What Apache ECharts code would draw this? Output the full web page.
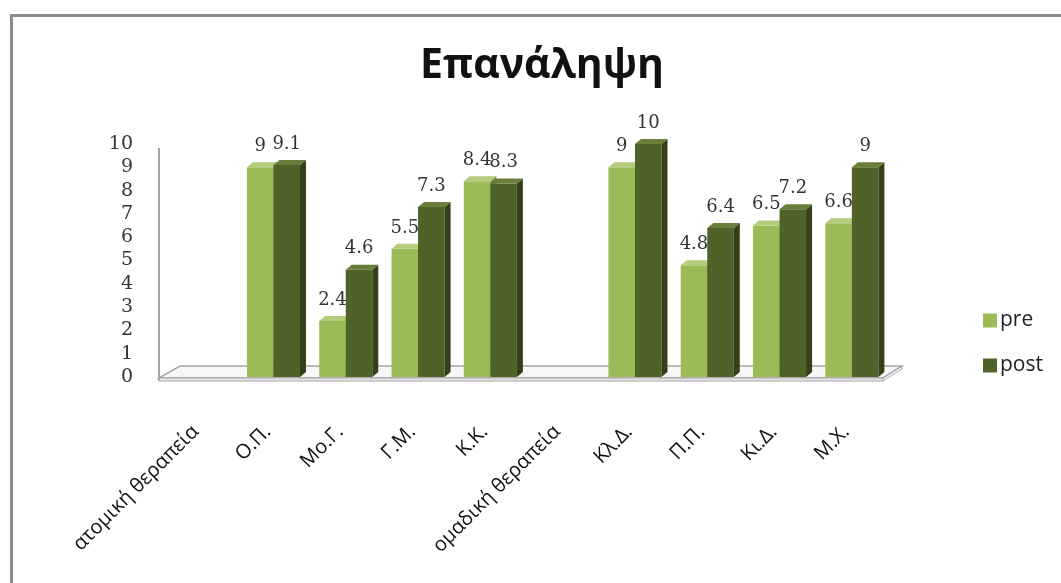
<!DOCTYPE html>
<html>
<head>
<meta charset="utf-8">
<script src="https://cdn.jsdelivr.net/npm/echarts@6/dist/echarts.min.js"></script>
<style>
  html, body { margin: 0; padding: 0; background: #ffffff; }
  #chart { width: 1061px; height: 583px; }
</style>
</head>
<body>
<div id="chart"></div>
<script>
// Categories along the x axis
const categories = ['ατομική θεραπεία', 'Ο.Π.', 'Μο.Γ.', 'Γ.Μ.', 'Κ.Κ.',
                    'ομαδική θεραπεία', 'Κλ.Δ.', 'Π.Π.', 'Κι.Δ.', 'Μ.Χ.'];
// Scores before and after (group headings have no values)
const preValues  = [null, 9,   2.4, 5.5, 8.4, null, 9,  4.8, 6.5, 6.6];
const postValues = [null, 9.1, 4.6, 7.3, 8.3, null, 10, 6.4, 7.2, 9];
const yTicks = { min: 0, max: 10, interval: 1 };

const seriesColors = {
  pre:  { front: '#9bbb59', side: '#6f8a3a', top: '#b3cd7c' },
  post: { front: '#4f6228', side: '#33401a', top: '#6a7e3c' }
};

const DEPTH_X = 6, DEPTH_Y = 5;
const BAR_RATIO = 0.367;

function bar3d(which) {
  const col = seriesColors[which];
  return function (params, api) {
    const idx = api.value(0);
    const val = api.value(1);
    if (val == null || isNaN(val)) return null;
    const base = api.coord([idx, 0]);
    const top = api.coord([idx, val]);
    const band = api.size([1, 0])[0];
    const w = band * BAR_RATIO;
    const x = which === 'pre' ? base[0] - w : base[0];
    const y0 = base[1], y1 = top[1];
    return {
      type: 'group',
      children: [
        { type: 'rect', shape: { x: x, y: y1, width: w, height: y0 - y1 },
          style: { fill: col.front } },
        { type: 'polygon', shape: { points: [
            [x + w, y1], [x + w + DEPTH_X, y1 - DEPTH_Y],
            [x + w + DEPTH_X, y0 - DEPTH_Y], [x + w, y0]] },
          style: { fill: col.side } },
        { type: 'polygon', shape: { points: [
            [x, y1], [x + DEPTH_X, y1 - DEPTH_Y],
            [x + w + DEPTH_X, y1 - DEPTH_Y], [x + w, y1]] },
          style: { fill: col.top } },
        { type: 'text', style: {
            text: String(val), x: x + w / 2, y: y1 - 12,
            textAlign: 'center', textVerticalAlign: 'bottom',
            fill: '#333333', font: '18px "DejaVu Serif"' } }
      ]
    };
  };
}

// Floor slab and back wall edge drawn from the grid's own coordinates
function floorItem(params, api) {
  const first = api.coord([0, 0]);
  const last = api.coord([categories.length - 1, 0]);
  const band = api.size([1, 0])[0];
  const L = first[0] - band / 2, R = last[0] + band / 2, y0 = first[1];
  const yTop = api.coord([0, yTicks.max])[1];
  return {
    type: 'group',
    children: [
      { type: 'polygon', shape: { points: [
          [L - 6, y0 + 1], [R - 5, y0 + 1], [R + 14, y0 - 11], [L + 15, y0 - 11]] },
        style: { fill: '#f7f7f7', stroke: '#a6a6a6', lineWidth: 1.5 } },
      { type: 'rect', shape: { x: L - 6, y: y0 + 1, width: R - L + 1, height: 3 },
        style: { fill: '#e6e6e6', stroke: '#a6a6a6', lineWidth: 1 } },
      { type: 'polyline', shape: { points: [[R - 5, y0 + 4], [R + 14, y0 - 8], [R + 14, y0 - 11]] },
        style: { fill: null, stroke: '#a6a6a6', lineWidth: 1 } },
      { type: 'line', shape: { x1: L - 6, y1: yTop + 4, x2: L - 6, y2: y0 + 4 },
        style: { stroke: '#a6a6a6', lineWidth: 2 } }
    ]
  };
}

const chart = echarts.init(document.getElementById('chart'));
chart.setOption({
  backgroundColor: '#ffffff',
  animation: false,
  graphic: [
    { type: 'rect', left: 9, top: 13, silent: true,
      shape: { width: 1100, height: 700 },
      style: { fill: null, stroke: '#8c8c8c', lineWidth: 3 } },
    { type: 'text', x: 542, y: 66, silent: true,
      style: { text: 'Επανάληψη', textAlign: 'center', textVerticalAlign: 'middle',
               fill: '#111111', font: 'bold 41px "Open Sans"' } }
  ],
  grid: { left: 165, right: 173, top: 144, bottom: 206, containLabel: false },
  legend: {
    data: ['pre', 'post'],
    orient: 'vertical', left: 978, top: 305,
    itemWidth: 14, itemHeight: 14, itemGap: 24, icon: 'rect',
    textStyle: { fontFamily: 'Open Sans', fontSize: 21, color: '#222222', padding: [0, 0, 0, -2] }
  },
  xAxis: {
    type: 'category', data: categories,
    axisLine: { show: false }, axisTick: { show: false },
    axisLabel: { interval: 0, rotate: 45, margin: 46, padding: [0, 8, 0, 0],
                 fontFamily: 'Open Sans', fontSize: 20, color: '#111111' }
  },
  yAxis: {
    type: 'value', min: yTicks.min, max: yTicks.max, interval: yTicks.interval,
    splitLine: { show: false }, axisLine: { show: false }, axisTick: { show: false },
    axisLabel: { margin: 32, fontFamily: 'DejaVu Serif', fontSize: 19,
                 color: '#333333', padding: [9, 0, 0, 0] }
  },
  series: [
    { name: 'floor', type: 'custom', renderItem: floorItem, data: [[0, 0]],
      silent: true, z: 1, legendHoverLink: false },
    { name: 'pre', type: 'custom', renderItem: bar3d('pre'), z: 2,
      itemStyle: { color: seriesColors.pre.front },
      data: preValues.map((v, i) => [i, v]) },
    { name: 'post', type: 'custom', renderItem: bar3d('post'), z: 3,
      itemStyle: { color: seriesColors.post.front },
      data: postValues.map((v, i) => [i, v]) }
  ]
});
</script>
</body>
</html>
